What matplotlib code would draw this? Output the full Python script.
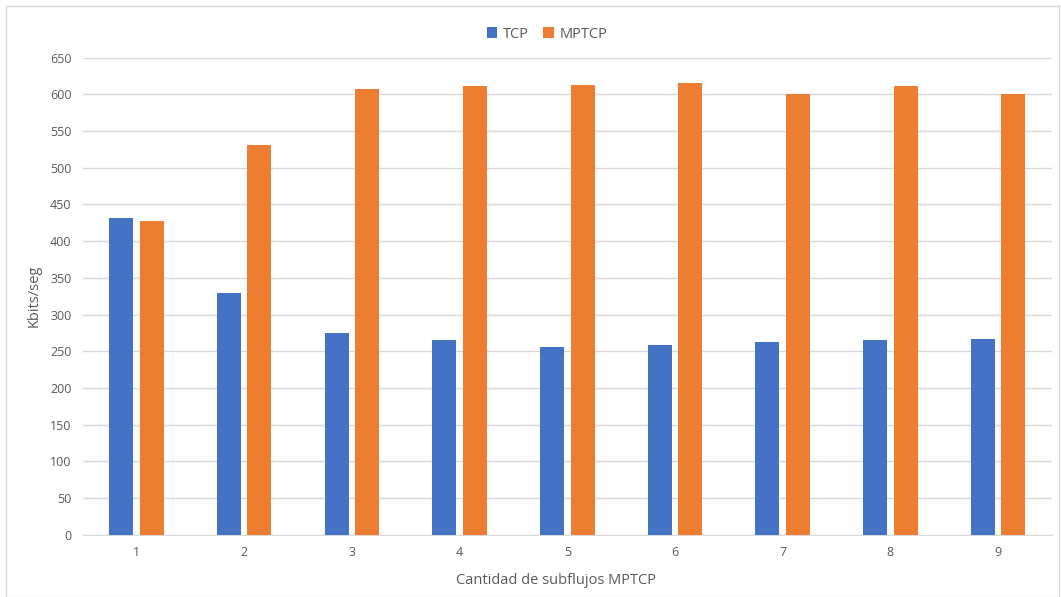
import matplotlib
matplotlib.use('Agg')
import matplotlib.pyplot as plt
import numpy as np
from matplotlib.patches import Rectangle

# datos
categorias = ['1', '2', '3', '4', '5', '6', '7', '8', '9']
tcp = [432, 329, 275, 266, 256, 258, 263, 265, 267]
mptcp = [427, 531, 607, 612, 613, 615, 601, 611, 601]

AZUL = '#4472C4'
NARANJA = '#ED7D31'
GRIS = '#595959'

plt.rcParams['font.family'] = ['Open Sans', 'DejaVu Sans']

fig = plt.figure(figsize=(10.61, 5.97), dpi=100)
ax = fig.add_axes([0.0778, 0.104, 0.9137, 0.7995])

x = np.arange(len(categorias))
ancho = 0.223
desp = 0.142
ax.bar(x - desp, tcp, ancho, color=AZUL, label='TCP', zorder=3)
ax.bar(x + desp, mptcp, ancho, color=NARANJA, label='MPTCP', zorder=3)

ax.set_xlim(-0.5, len(categorias) - 0.5)
ax.set_ylim(0, 650)
ax.set_yticks(np.arange(0, 651, 50))
ax.set_xticks(x)
ax.set_xticklabels(categorias)
ax.yaxis.grid(True, color='#D9D9D9', linewidth=1, zorder=0)
ax.tick_params(axis='both', length=0, labelsize=9, colors=GRIS, pad=8)
for s in ['top', 'right', 'left']:
    ax.spines[s].set_visible(False)
ax.spines['bottom'].set_color('#D9D9D9')

ax.set_ylabel('Kbits/seg', fontsize=10.5, color=GRIS, labelpad=6)
ax.set_xlabel('Cantidad de subflujos MPTCP', fontsize=10.5, color=GRIS)
ax.xaxis.set_label_coords(0.488, -0.08)

ax.legend(loc='center', bbox_to_anchor=(0.5155, 0.943), bbox_transform=fig.transFigure,
          ncol=2, frameon=False, fontsize=10.5, handlelength=0.7, handleheight=0.7,
          handletextpad=0.4, columnspacing=1.0, labelcolor=GRIS)

# borde del area del grafico
fig.patches.append(Rectangle((0.006, 0.0), 0.992, 0.99, transform=fig.transFigure,
                             fill=False, edgecolor='#D9D9D9', linewidth=1))

fig.savefig('out.png', dpi=100)
